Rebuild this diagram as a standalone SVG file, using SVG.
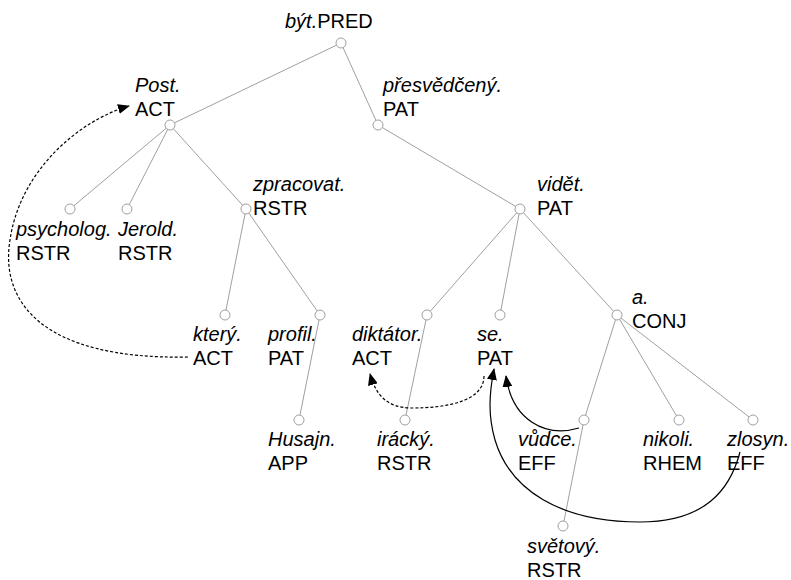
<svg xmlns="http://www.w3.org/2000/svg" width="791" height="580" viewBox="0 0 791 580">
<style>
text{font-family:"Liberation Sans",Arial,sans-serif;font-size:20px;fill:#000}
.i{font-style:italic}
.e{stroke:#a0a0a0;stroke-width:1;fill:none}
.n{fill:#fff;stroke:#a0a0a0;stroke-width:1}
.d{stroke:#000;stroke-width:1.2;fill:none;stroke-dasharray:3,2}
.s{stroke:#000;stroke-width:1.2;fill:none}
</style>
<defs>
<marker id="ah" viewBox="0 0 12 10" refX="11" refY="5" markerWidth="12" markerHeight="10" markerUnits="userSpaceOnUse" orient="auto">
<path d="M0,0 L12,5 L0,10 Z" fill="#000"/>
</marker>
</defs>
<g id="edges">
<line class="e" x1="341" y1="43" x2="170" y2="125"/>
<line class="e" x1="341" y1="43" x2="378" y2="125"/>
<line class="e" x1="170" y1="125" x2="70" y2="209"/>
<line class="e" x1="170" y1="125" x2="127" y2="209"/>
<line class="e" x1="170" y1="125" x2="246" y2="209"/>
<line class="e" x1="378" y1="125" x2="520" y2="209"/>
<line class="e" x1="246" y1="209" x2="225" y2="315"/>
<line class="e" x1="246" y1="209" x2="320" y2="315"/>
<line class="e" x1="320" y1="315" x2="299" y2="420"/>
<line class="e" x1="520" y1="209" x2="427" y2="315"/>
<line class="e" x1="520" y1="209" x2="500" y2="315"/>
<line class="e" x1="520" y1="209" x2="617" y2="315"/>
<line class="e" x1="427" y1="315" x2="405" y2="420"/>
<line class="e" x1="617" y1="315" x2="584" y2="420"/>
<line class="e" x1="617" y1="315" x2="679" y2="420"/>
<line class="e" x1="617" y1="315" x2="753" y2="420"/>
<line class="e" x1="584" y1="420" x2="563" y2="526"/>
</g>
<g id="connectors">
<path class="d" d="M188 357 C40 360 0 300 10 240 C20 170 80 120 129 106" marker-end="url(#ah)"/>
<path class="d" d="M484 376 C484 400 450 408 412 408 C388 408 376 396 370 374" marker-end="url(#ah)"/>
<path class="s" d="M579 428 C545 438 512 420 506 376" marker-end="url(#ah)"/>
<path class="s" d="M740 452 C730 490 705 522 640 522 C560 522 510 490 495 440 C488 415 489 395 494 369" marker-end="url(#ah)"/>
</g>
<g id="n-byt"><circle class="n" cx="341" cy="43" r="5"/><text x="285" y="28"><tspan class="i">být.</tspan>PRED</text></g>
<g id="n-post"><circle class="n" cx="170" cy="125" r="5"/><text class="i" x="135" y="92">Post.</text><text x="135" y="116">ACT</text></g>
<g id="n-presvedceny"><circle class="n" cx="378" cy="125" r="5"/><text class="i" x="383" y="92">přesvědčený.</text><text x="383" y="116">PAT</text></g>
<g id="n-psycholog"><circle class="n" cx="70" cy="209" r="5"/><text class="i" x="16" y="236">psycholog.</text><text x="16" y="260">RSTR</text></g>
<g id="n-jerold"><circle class="n" cx="127" cy="209" r="5"/><text class="i" x="118" y="236">Jerold.</text><text x="118" y="260">RSTR</text></g>
<g id="n-zpracovat"><circle class="n" cx="246" cy="209" r="5"/><text class="i" x="253" y="191">zpracovat.</text><text x="253" y="215">RSTR</text></g>
<g id="n-videt"><circle class="n" cx="520" cy="209" r="5"/><text class="i" x="537" y="191">vidět.</text><text x="537" y="215">PAT</text></g>
<g id="n-ktery"><circle class="n" cx="225" cy="315" r="5"/><text class="i" x="193" y="341">který.</text><text x="193" y="365">ACT</text></g>
<g id="n-profil"><circle class="n" cx="320" cy="315" r="5"/><text class="i" x="268" y="341">profil.</text><text x="268" y="365">PAT</text></g>
<g id="n-diktator"><circle class="n" cx="427" cy="315" r="5"/><text class="i" x="352" y="341">diktátor.</text><text x="352" y="365">ACT</text></g>
<g id="n-se"><circle class="n" cx="500" cy="315" r="5"/><text class="i" x="477" y="341">se.</text><text x="477" y="365">PAT</text></g>
<g id="n-a"><circle class="n" cx="617" cy="315" r="5"/><text class="i" x="632" y="304">a.</text><text x="632" y="328">CONJ</text></g>
<g id="n-husajn"><circle class="n" cx="299" cy="420" r="5"/><text class="i" x="268" y="446">Husajn.</text><text x="268" y="470">APP</text></g>
<g id="n-iracky"><circle class="n" cx="405" cy="420" r="5"/><text class="i" x="377" y="446">irácký.</text><text x="377" y="470">RSTR</text></g>
<g id="n-vudce"><circle class="n" cx="584" cy="420" r="5"/><text class="i" x="518" y="446">vůdce.</text><text x="518" y="470">EFF</text></g>
<g id="n-nikoli"><circle class="n" cx="679" cy="420" r="5"/><text class="i" x="643" y="446">nikoli.</text><text x="643" y="470">RHEM</text></g>
<g id="n-zlosyn"><circle class="n" cx="753" cy="420" r="5"/><text class="i" x="727" y="446">zlosyn.</text><text x="727" y="470">EFF</text></g>
<g id="n-svetovy"><circle class="n" cx="563" cy="526" r="5"/><text class="i" x="527" y="553">světový.</text><text x="527" y="577">RSTR</text></g>
</svg>
